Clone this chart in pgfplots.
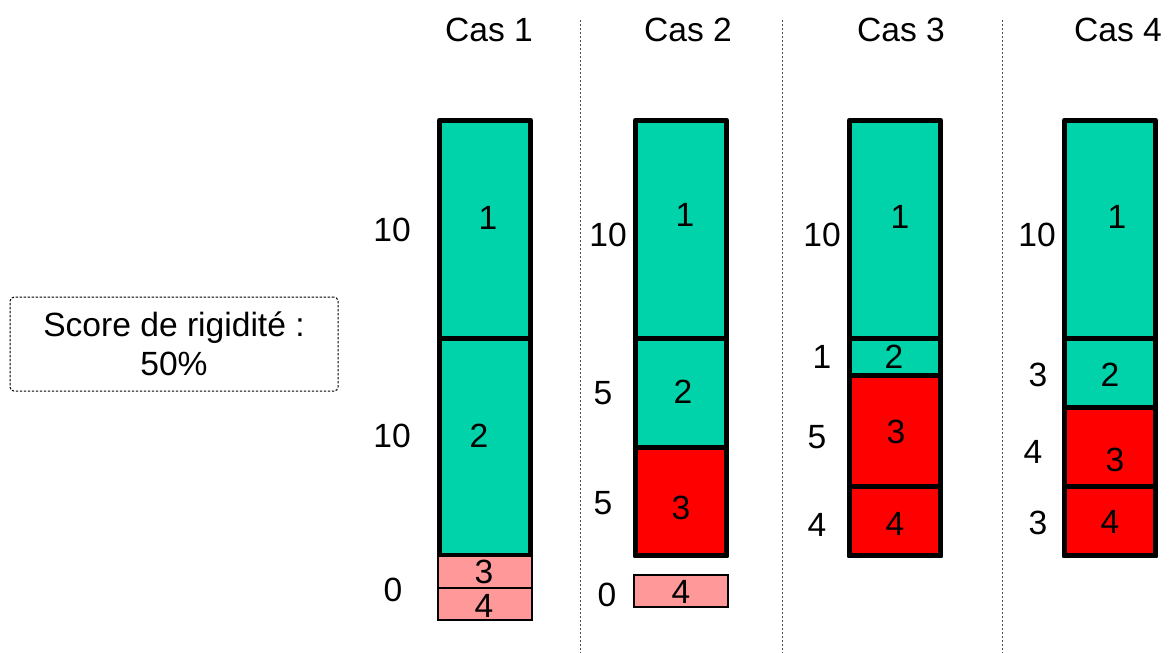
\documentclass[border=0pt]{standalone}
\usepackage{pgfplots}
\pgfplotsset{compat=1.18}
\usepackage{fontspec}
\setmainfont{Liberation Sans}
\definecolor{vert}{HTML}{00D2AA}
\definecolor{rouge}{HTML}{FF0000}
\definecolor{rose}{HTML}{FF9999}

\begin{document}
\begin{tikzpicture}[lab/.style={font=\fontsize{16.8}{20}\selectfont, inner sep=0pt},
  sep/.style={gray!60!black, line width=0.5pt, dash pattern=on 1pt off 1pt}]
\begin{axis}[
  width=586pt, height=326pt, scale only axis,
  xmin=0, xmax=1172, ymin=-4.404, ymax=25.505,
  hide axis, clip=false, set layers,
  ybar, bar width=45.5pt,
  seg/.style={draw=black, line width=2.5pt, line join=round, bar shift=0pt},
  light/.style={sharp plot, fill=rose, draw=black, line width=0.8pt, bar shift=0pt},
]
\path (rel axis cs:0,0) rectangle (rel axis cs:1,1);
% cases at x = 485, 681, 895, 1110
% cumulative top of each segment (1 on top ... 4 at the bottom), drawn from 0, top first
\addplot[seg, fill=vert]  coordinates {(485,20) (681,20) (895,20) (1110,20)};   % segment 1
\addplot[seg, fill=vert]  coordinates {(485,10) (681,10) (895,10) (1110,10)};   % segment 2
\addplot[seg, fill=rouge] coordinates {(681,5) (895,8.3) (1110,6.8)};            % segment 3
\addplot[seg, fill=rouge] coordinates {(895,3.2) (1110,3.2)};                    % segment 4
% zero-valued segments, shown as light boxes below the bars
\addplot[light] coordinates {(438,0) (532,0) (532,-1.47) (438,-1.47)} -- cycle;
\addplot[light] coordinates {(438,-1.47) (532,-1.47) (532,-2.94) (438,-2.94)} -- cycle;
\addplot[light] coordinates {(634,-0.87) (728,-0.87) (728,-2.34) (634,-2.34)} -- cycle;

% separators
\draw[sep] (axis cs:580,24.6) -- (axis cs:580,-4.4);
\draw[sep] (axis cs:782,24.6) -- (axis cs:782,-4.4);
\draw[sep] (axis cs:1002,24.6) -- (axis cs:1002,-4.4);

\begin{pgfonlayer}{axis foreground}
% titles
\node[lab] at (axis cs:489,24.13) {Cas 1};
\node[lab] at (axis cs:688,24.13) {Cas 2};
\node[lab] at (axis cs:901,24.13) {Cas 3};
\node[lab] at (axis cs:1118,24.13) {Cas 4};

% segment numbers
\node[lab] at (axis cs:488,15.50) {1};
\node[lab] at (axis cs:479,5.50) {2};
\node[lab] at (axis cs:484,-0.73) {3};
\node[lab] at (axis cs:484,-2.29) {4};
\node[lab] at (axis cs:685,15.64) {1};
\node[lab] at (axis cs:683,7.52) {2};
\node[lab] at (axis cs:681,2.20) {3};
\node[lab] at (axis cs:681,-1.65) {4};
\node[lab] at (axis cs:900,15.55) {1};
\node[lab] at (axis cs:894,9.13) {2};
\node[lab] at (axis cs:896,5.69) {3};
\node[lab] at (axis cs:895,1.47) {4};
\node[lab] at (axis cs:1117,15.55) {1};
\node[lab] at (axis cs:1110,8.30) {2};
\node[lab] at (axis cs:1115,4.40) {3};
\node[lab] at (axis cs:1110,1.56) {4};

% values
\node[lab] at (axis cs:392,14.95) {10};
\node[lab] at (axis cs:392,5.50) {10};
\node[lab] at (axis cs:393,-1.56) {0};
\node[lab] at (axis cs:608,14.72) {10};
\node[lab] at (axis cs:603,7.48) {5};
\node[lab] at (axis cs:603,2.43) {5};
\node[lab] at (axis cs:607,-1.79) {0};
\node[lab] at (axis cs:822,14.72) {10};
\node[lab] at (axis cs:822,9.13) {1};
\node[lab] at (axis cs:817,5.46) {5};
\node[lab] at (axis cs:817,1.42) {4};
\node[lab] at (axis cs:1037,14.72) {10};
\node[lab] at (axis cs:1038,8.30) {3};
\node[lab] at (axis cs:1033,4.77) {4};
\node[lab] at (axis cs:1038,1.51) {3};

% score box
\node[draw=black, line width=0.5pt, dash pattern=on 1.2pt off 0.8pt, rounded corners=2pt,
  minimum width=164pt, minimum height=47pt, align=center,
  font=\fontsize{16.8}{19.5}\selectfont] at (axis cs:174,9.72) {Score de rigidité :\\50\%};
\end{pgfonlayer}
\end{axis}
\end{tikzpicture}
\end{document}
